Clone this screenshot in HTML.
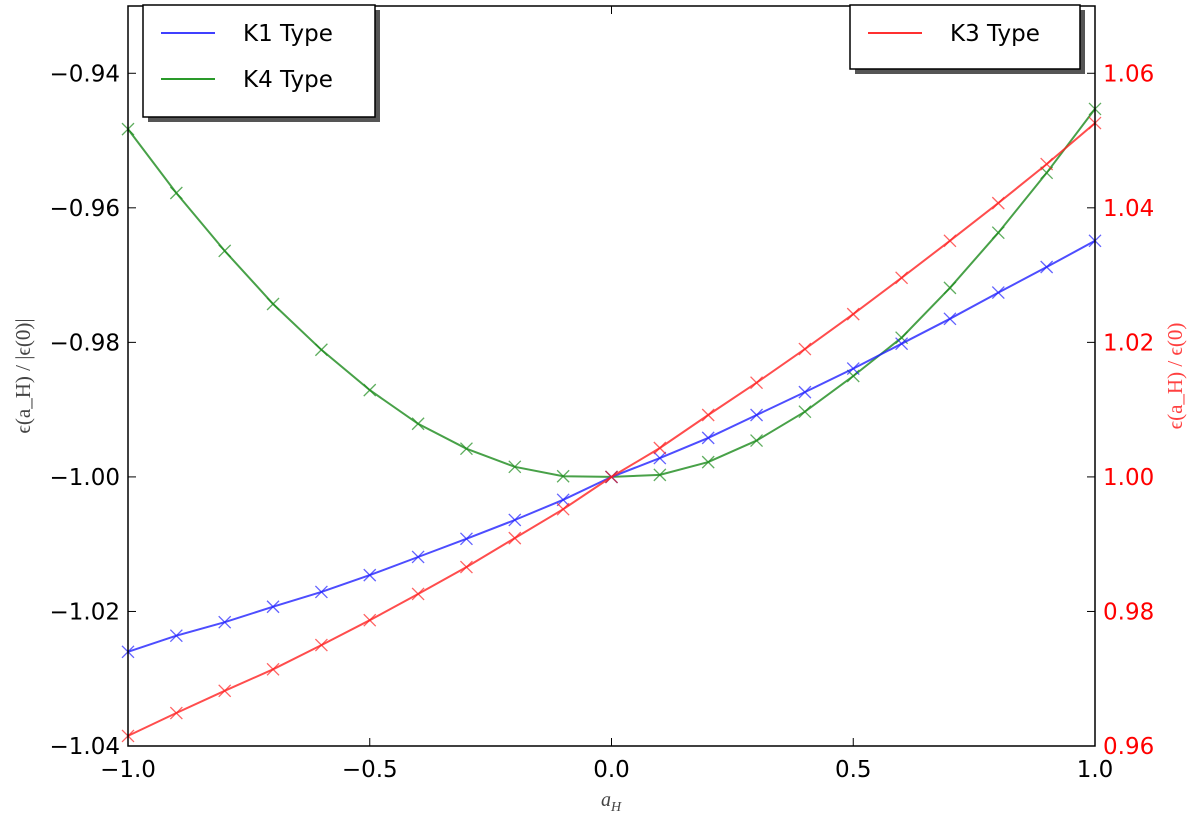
<!DOCTYPE html>
<html><head><meta charset="utf-8"><style>
body{margin:0;background:#fff;}
svg{font-family:"DejaVu Sans","Liberation Sans",sans-serif;}
</style></head><body>
<svg id="chart" width="1200" height="814" xmlns="http://www.w3.org/2000/svg"></svg>
<script>
const xs=[-1,-0.9,-0.8,-0.7,-0.6,-0.5,-0.4,-0.3,-0.2,-0.1,0,0.1,0.2,0.3,0.4,0.5,0.6,0.7,0.8,0.9,1];
const k1=[-1.026,-1.0236,-1.0216,-1.0193,-1.0171,-1.0146,-1.0119,-1.0092,-1.0064,-1.0034,-1,-0.9972,-0.9942,-0.9908,-0.9874,-0.9839,-0.9802,-0.9765,-0.9726,-0.9688,-0.9649];
const k4=[-0.9483,-0.9578,-0.9664,-0.9743,-0.9811,-0.9871,-0.9921,-0.9958,-0.9985,-0.9999,-1,-0.9997,-0.9978,-0.9946,-0.9903,-0.985,-0.9793,-0.9719,-0.9637,-0.9548,-0.9453];
const k3=[0.9615,0.9649,0.9682,0.9714,0.975,0.9787,0.9826,0.9866,0.9909,0.9952,1,1.0043,1.0092,1.014,1.019,1.0242,1.0296,1.0351,1.0407,1.0465,1.0526];
const xTicks=[-1,-0.5,0,0.5,1];
const xTickLabels=["\u22121.0","\u22120.5","0.0","0.5","1.0"];
const yTicks=[-1.04,-1.02,-1,-0.98,-0.96,-0.94];
const yTickLabels=["\u22121.04","\u22121.02","\u22121.00","\u22120.98","\u22120.96","\u22120.94"];
const y2Ticks=[0.96,0.98,1,1.02,1.04,1.06];
const y2TickLabels=["0.96","0.98","1.00","1.02","1.04","1.06"];

const L=128,R=1095,T=6,B=746;
const X=v=>L+(v+1)/2*(R-L);
const Y=v=>B-(v+1.04)/0.11*(B-T);
const Y2=v=>B-(v-0.96)/0.11*(B-T);
const svg=document.getElementById('chart');
const NS='http://www.w3.org/2000/svg';
function mk(tag,attrs,parent){const e=document.createElementNS(NS,tag);for(const k in attrs)e.setAttribute(k,attrs[k]);(parent||svg).appendChild(e);return e;}

function series(vals,yf,color,name){
  const g=mk('g',{});
  
  
  const pts=xs.map((x,i)=>X(x).toFixed(1)+','+yf(vals[i]).toFixed(1)).join(' ');
  mk('polyline',{points:pts,fill:'none',stroke:color,'stroke-width':2,'stroke-opacity':0.8},g);
  xs.forEach((x,i)=>{const cx=X(x),cy=yf(vals[i]),s=6;
    const m=mk('path',{d:`M${cx-s},${cy-s}L${cx+s},${cy+s}M${cx-s},${cy+s}L${cx+s},${cy-s}`,stroke:color,'stroke-width':1.3,'stroke-opacity':0.7},g);
    
    
  });
}
series(k4,Y,'#1a8a1a','k4-series');
series(k1,Y,'#2020ff','k1-series');
series(k3,Y2,'#ff2020','k3-series');

// frame
const fr=mk('rect',{x:L,y:T,width:R-L,height:B-T,fill:'none',stroke:'#000','stroke-width':1.5});



xTicks.forEach((t,i)=>{const x=X(t);
  mk('line',{x1:x,x2:x,y1:B,y2:B-8,stroke:'#000'});mk('line',{x1:x,x2:x,y1:T,y2:T+8,stroke:'#000'});
  const tx=mk('text',{x:x,y:B+31,'font-size':23,'text-anchor':'middle'});tx.textContent=xTickLabels[i];
  
  
});
yTicks.forEach((t,i)=>{const y=Y(t);
  mk('line',{x1:L,x2:L+8,y1:y,y2:y,stroke:'#000'});
  const tx=mk('text',{x:L-8,y:y+8,'font-size':23,'text-anchor':'end'});tx.textContent=yTickLabels[i];
  
  
});
y2Ticks.forEach((t,i)=>{const y=Y2(t);
  mk('line',{x1:R,x2:R-8,y1:y,y2:y,stroke:'#000'});
  const tx=mk('text',{x:R+8,y:y+8,'font-size':23,fill:'#ff0000'});tx.textContent=y2TickLabels[i];
  
  
});
let t;
t=mk('text',{x:611,y:806,'font-size':20,'font-style':'italic','text-anchor':'middle',fill:'#444','font-family':'Liberation Serif,serif'});t.textContent='a_H';

t.innerHTML='a<tspan font-size="14" dy="5">H</tspan>';
t=mk('text',{transform:'translate(30,376) rotate(-90)','font-size':21,'text-anchor':'middle',fill:'#444','font-family':'Liberation Serif,serif'});
t.textContent='ϵ(a_H) / |ϵ(0)|';

t=mk('text',{transform:'translate(1182,376) rotate(-90)','font-size':21,'text-anchor':'middle',fill:'#ff4040','font-family':'Liberation Serif,serif'});
t.textContent='ϵ(a_H) / ϵ(0)';


function legend(x,y,w,h,items,name){
  const g=mk('g',{});
  
  
  mk('rect',{x:x+5,y:y+5,width:w,height:h,fill:'#555'},g);
  mk('rect',{x:x,y:y,width:w,height:h,fill:'#fff',stroke:'#000','stroke-width':1.5},g);
  items.forEach((it,i)=>{const yy=y+36+i*46;
    mk('line',{x1:x+18,x2:x+72,y1:yy-8,y2:yy-8,stroke:it[1],'stroke-width':2},g);
    const tx=mk('text',{x:x+100,y:yy,'font-size':23},g);tx.textContent=it[0];
    
  });
}
legend(143,5,232,112,[['K1 Type','#4040ff'],['K4 Type','#2a9a2a']],'legend-left');
legend(850,5,230,64,[['K3 Type','#ff3030']],'legend-right');
</script>
</body></html>
